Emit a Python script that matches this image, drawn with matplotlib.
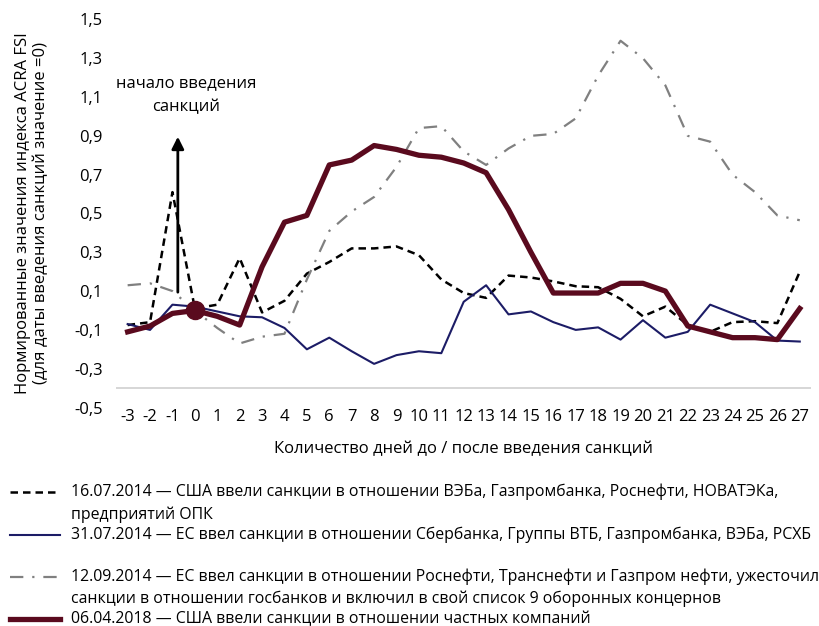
import matplotlib
matplotlib.use("Agg")
import matplotlib.pyplot as plt
from matplotlib.lines import Line2D

plt.rcParams['font.family'] = ['Open Sans', 'DejaVu Sans']

# days before / after sanctions
days = list(range(-3, 28))

us_2014_07 = [-0.075, -0.06, 0.61, 0.01, 0.03, 0.27, -0.01, 0.05, 0.19, 0.25,
              0.32, 0.32, 0.33, 0.285, 0.16, 0.09, 0.065, 0.18, 0.17, 0.15,
              0.125, 0.12, 0.06, -0.03, 0.02, -0.075, -0.11, -0.06, -0.055, -0.065, 0.2]
eu_2014_07 = [-0.07, -0.1, 0.03, 0.02, -0.005, -0.03, -0.035, -0.09, -0.2, -0.14,
              -0.21, -0.275, -0.23, -0.21, -0.22, 0.045, 0.13, -0.02, -0.005, -0.06,
              -0.1, -0.087, -0.15, -0.05, -0.14, -0.11, 0.03, -0.015, -0.06, -0.155, -0.16]
eu_2014_09 = [0.13, 0.14, 0.10, 0.0, -0.09, -0.17, -0.135, -0.12, 0.16, 0.41,
              0.51, 0.585, 0.74, 0.94, 0.95, 0.82, 0.75, 0.835, 0.9, 0.91,
              0.99, 1.21, 1.39, 1.3, 1.16, 0.9, 0.87, 0.7, 0.61, 0.49, 0.465]
us_2018_04 = [-0.11, -0.08, -0.015, 0.0, -0.03, -0.075, 0.225, 0.455, 0.49, 0.75,
              0.775, 0.85, 0.83, 0.8, 0.79, 0.76, 0.71, 0.52, 0.3, 0.09,
              0.09, 0.09, 0.14, 0.14, 0.1, -0.08, -0.11, -0.14, -0.14, -0.15, 0.01]

labels = [
    ["16.07.2014 — США ввели санкции в отношении ВЭБа, Газпромбанка, Роснефти, НОВАТЭКа,",
     "предприятий ОПК"],
    ["31.07.2014 — ЕС ввел санкции в отношении Сбербанка, Группы ВТБ, Газпромбанка, ВЭБа, РСХБ"],
    ["12.09.2014 — ЕС ввел санкции в отношении Роснефти, Транснефти и Газпром нефти, ужесточил",
     "санкции в отношении госбанков и включил в свой список 9 оборонных концернов"],
    ["06.04.2018 — США ввели санкции в отношении частных компаний"],
]
yticks = [-0.5, -0.3, -0.1, 0.1, 0.3, 0.5, 0.7, 0.9, 1.1, 1.3, 1.5]

maroon = '#5a0a1e'
navy = '#1c1c66'
styles = [
    dict(color='black', lw=1.8, linestyle=(0, (3, 2))),
    dict(color=navy, lw=1.5, linestyle='-'),
    dict(color='#808080', lw=1.6, linestyle=(0, (6, 4, 1, 4))),
    dict(color=maroon, lw=3.8, linestyle='-'),
]

fig = plt.figure(figsize=(8.2, 6.26), dpi=100)
ax = fig.add_axes([0.142, 0.349, 0.847, 0.62])

series = [us_2014_07, eu_2014_07, eu_2014_09, us_2018_04]
for vals, st in zip(series, styles):
    ax.plot(days, vals, **st)
ax.plot([0], [us_2018_04[days.index(0)]], 'o', color=maroon, markersize=13, zorder=5)

ax.set_xlim(-3.5, 27.5)
ax.set_ylim(-0.5, 1.5)
ax.axhline(-0.4, color='#d0d0d0', lw=1.2, zorder=0)
for s in ax.spines.values():
    s.set_visible(False)
ax.set_yticks(yticks)
ax.set_yticklabels([f"{v:.1f}".replace('.', ',') for v in yticks], fontsize=12)
ax.set_xticks(days)
ax.set_xticklabels([str(d) for d in days], fontsize=12)
ax.tick_params(length=0, pad=1)
ax.tick_params(axis='y', pad=10)

ax.set_xlabel("Количество дней до / после введения санкций", fontsize=12, labelpad=12)
ax.set_ylabel("Нормированные значения индекса ACRA FSI\n(для даты введения санкций значение =0)",
              fontsize=12, labelpad=18, linespacing=1.15)

# arrow marking the start of sanctions
ax.annotate("", xy=(-0.76, 0.91), xytext=(-0.76, 0.08),
            arrowprops=dict(arrowstyle='-|>', color='black', lw=2, mutation_scale=18))
ax.text(-0.4, 1.11, "начало введения\nсанкций", ha='center', va='center', fontsize=12,
        linespacing=1.6)

# legend below the chart (pixel rows of the handle and of a wrapped second line)
handle_rows = [492, 535, 577, 619]
wrap_rows = [515, None, 599, None]
for lines, st, ypx, ypx2 in zip(labels, styles, handle_rows, wrap_rows):
    yf = 1 - ypx / 626
    fig.add_artist(Line2D([10 / 820, 60 / 820], [yf, yf], transform=fig.transFigure, **st))
    fig.text(71 / 820, yf, lines[0], fontsize=11.4, va='center', transform=fig.transFigure)
    if len(lines) > 1:
        fig.text(71 / 820, 1 - ypx2 / 626, lines[1], fontsize=11.4, va='center',
                 transform=fig.transFigure)

fig.savefig("out.png", dpi=100)
